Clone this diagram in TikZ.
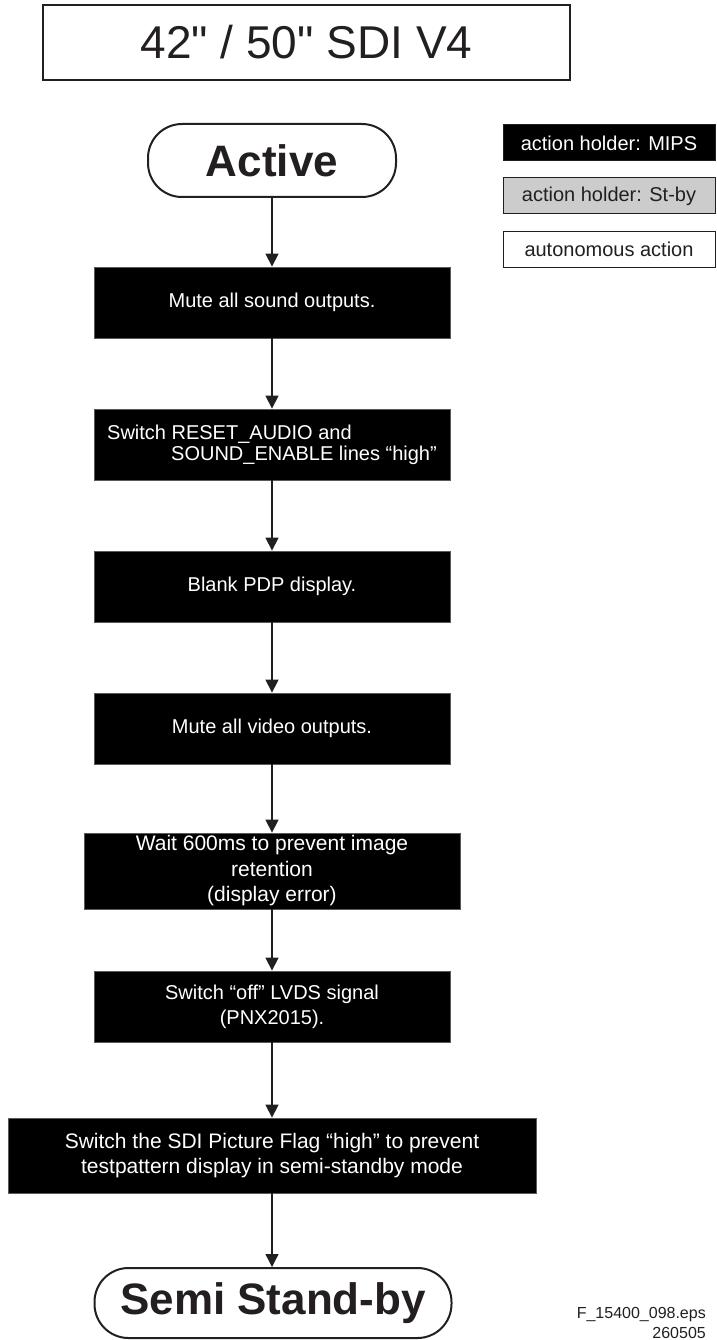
\documentclass[tikz,border=0pt]{standalone}
\usepackage{fontspec}
\setmainfont{Liberation Sans}[Ligatures=TeXOff]
\usetikzlibrary{arrows.meta}
\definecolor{ink}{HTML}{231F20}
\begin{document}
\begin{tikzpicture}[x=1pt,y=-1pt,
  blackbox/.style={rectangle, fill=black, draw=black!65, line width=0.8pt, text=white, inner sep=0pt, align=center, minimum width=356pt, minimum height=71pt, font=\fontsize{20}{25}\selectfont},
  legend/.style={rectangle, draw=ink, line width=1pt, inner sep=0pt, minimum width=212pt, minimum height=36pt, font=\fontsize{20}{24}\selectfont},
  term/.style={rectangle, rounded corners=34pt, draw=ink, line width=2pt, fill=white, inner sep=0pt, font=\fontsize{44}{50}\selectfont\bfseries, text=ink},
  flow/.style={draw=ink, line width=1.3pt, -{Triangle[length=13pt,width=13pt]}}]
\useasboundingbox (0,0) rectangle (716,1340);
% title
\node[draw=ink, line width=2pt, minimum width=527pt, minimum height=75pt, inner sep=0pt, font=\fontsize{46}{50}\selectfont, text=ink] (title) at (306.5,42.5) {42" / 50" SDI V4};
% legend
\node[legend, fill=black, text=white] (mips) at (609,143) {action holder: MIPS};
\node[legend, fill=black!20, text=ink] (stby) at (609,196) {action holder: St-by};
\node[legend, fill=white, text=ink] (auto) at (609,249.5) {autonomous action};
% flow
\node[term, minimum width=248pt, minimum height=73pt] (active) at (272,160.5) {Active};
\node[blackbox] (mutes) at (272,302.5) {Mute all sound outputs.};
\node[blackbox, align=left, font=\fontsize{20}{21}\selectfont] (reset) at (272,444.5) {Switch RESET\_AUDIO and\\\hspace*{64pt}SOUND\_ENABLE lines “high”};
\node[blackbox] (blank) at (272,586.5) {Blank PDP display.};
\node[blackbox] (mutev) at (272,728.5) {Mute all video outputs.};
\node[blackbox, minimum width=376pt, minimum height=76pt, font=\fontsize{21}{25.5}\selectfont] (wait) at (272,871) {Wait 600ms to prevent image\\retention\\(display error)};
\node[blackbox] (lvds) at (272,1006.5) {Switch “off” LVDS signal\\(PNX2015).};
\node[blackbox, minimum width=528pt, minimum height=75pt, font=\fontsize{21}{25}\selectfont] (sdi) at (272,1155.5) {Switch the SDI Picture Flag “high” to prevent\\testpattern display in semi-standby mode};
\node[term, minimum width=357pt, minimum height=70pt] (semi) at (273,1303) {Semi Stand-by};
% file label
\node[anchor=east, align=right, inner sep=0pt, text=ink, font=\fontsize{16}{20}\selectfont] (file) at (706,1323) {F\_15400\_098.eps\\260505};
% connectors
\draw[flow] (active) -- (mutes);
\draw[flow] (mutes) -- (reset);
\draw[flow] (reset) -- (blank);
\draw[flow] (blank) -- (mutev);
\draw[flow] (mutev) -- (wait);
\draw[flow] (wait) -- (lvds);
\draw[flow] (lvds) -- (sdi);
\draw[flow] (sdi.south) -- (semi.north -| sdi.south);
\end{tikzpicture}
\end{document}
